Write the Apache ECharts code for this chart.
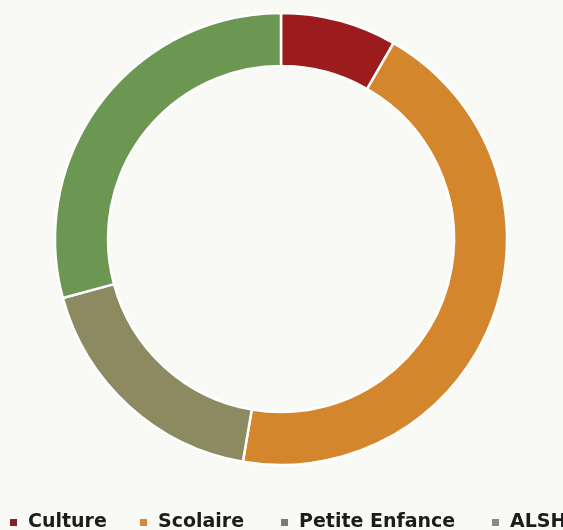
<!DOCTYPE html>
<html>
<head>
<meta charset="utf-8">
<script src="https://cdn.jsdelivr.net/npm/echarts@6/dist/echarts.min.js"></script>
<style>
  html, body { margin: 0; padding: 0; background: #f9f9f5; }
  #chart { width: 563px; height: 530px; }
</style>
</head>
<body>
<div id="chart"></div>
<script>
// Budget share by domain (%)
const categories = ['Culture', 'Scolaire', 'Petite Enfance', 'ALSH'];
const values = [8.3, 44.4, 18.1, 29.2];
const sliceColors = ['#9c1c1e', '#d4862c', '#8b8a60', '#6b9752'];
const legendColors = ['#8a2024', '#d08a40', '#7a7a72', '#8a8a84'];
const legendLeft = [10, 140, 281, 492];

const chart = echarts.init(document.getElementById('chart'), null, { renderer: 'canvas' });

const legends = categories.map((name, i) => ({
  show: true,
  left: legendLeft[i],
  top: 513,
  padding: 0,
  width: 800,
  orient: 'horizontal',
  icon: 'rect',
  itemWidth: 7,
  itemHeight: 7,
  selectedMode: false,
  data: [{ name: name, itemStyle: { color: legendColors[i], borderWidth: 0 } }],
  textStyle: {
    fontFamily: 'DejaVu Sans',
    fontWeight: 'bold',
    fontSize: 19,
    color: '#1c1c1c',
    padding: [0, 0, 0, 6]
  }
}));

chart.setOption({
  backgroundColor: '#f9f9f5',
  animation: false,
  legend: legends,
  series: [{
    type: 'pie',
    center: [281, 239],
    radius: [173, 226],
    startAngle: 90,
    clockwise: true,
    label: { show: false },
    labelLine: { show: false },
    emphasis: { disabled: true },
    itemStyle: { borderColor: '#ffffff', borderWidth: 2.5 },
    data: categories.map((name, i) => ({
      name: name,
      value: values[i],
      itemStyle: { color: sliceColors[i] }
    }))
  }]
});
</script>
</body>
</html>
